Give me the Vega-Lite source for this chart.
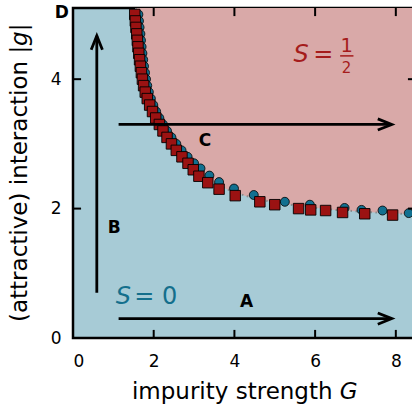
{
  "$schema": "https://vega.github.io/schema/vega-lite/v6.json",
  "autosize": {"type": "none"},
  "padding": {"left": 73, "top": 8, "right": 0, "bottom": 70},
  "width": 343,
  "height": 330,
  "config": {
    "font": "DejaVu Sans",
    "view": {"fill": "#a7cbd6", "stroke": "black", "strokeWidth": 2.5},
    "axis": {
      "domain": false, "grid": false, "ticks": false, "zindex": 1,
      "labelFont": "DejaVu Sans", "labelFontSize": 17, "labelColor": "black", "title": null
    }
  },
  "datasets": {
    "boundary": [
      {"G": 1.56, "g": 5.1}, {"G": 1.575, "g": 5.0}, {"G": 1.605, "g": 4.8}, {"G": 1.64, "g": 4.6},
      {"G": 1.675, "g": 4.4}, {"G": 1.715, "g": 4.2}, {"G": 1.765, "g": 4.0}, {"G": 1.835, "g": 3.8},
      {"G": 1.945, "g": 3.6}, {"G": 2.095, "g": 3.4}, {"G": 2.28, "g": 3.2}, {"G": 2.5, "g": 3.0},
      {"G": 2.77, "g": 2.8}, {"G": 3.09, "g": 2.6}, {"G": 3.27, "g": 2.5}, {"G": 3.5, "g": 2.4},
      {"G": 3.81, "g": 2.3}, {"G": 4.26, "g": 2.2}, {"G": 4.94, "g": 2.1}, {"G": 5.6, "g": 2.04},
      {"G": 6.5, "g": 1.98}, {"G": 7.5, "g": 1.94}, {"G": 8.5, "g": 1.91}
    ],
    "circles": [
      {"G": 1.62, "g": 5.0}, {"G": 1.635, "g": 4.9}, {"G": 1.65, "g": 4.8}, {"G": 1.67, "g": 4.7},
      {"G": 1.685, "g": 4.6}, {"G": 1.70, "g": 4.5}, {"G": 1.72, "g": 4.4}, {"G": 1.74, "g": 4.3},
      {"G": 1.76, "g": 4.2}, {"G": 1.785, "g": 4.1}, {"G": 1.81, "g": 4.0}, {"G": 1.84, "g": 3.9},
      {"G": 1.88, "g": 3.8}, {"G": 1.93, "g": 3.7}, {"G": 1.99, "g": 3.6}, {"G": 2.06, "g": 3.5},
      {"G": 2.14, "g": 3.4}, {"G": 2.23, "g": 3.3}, {"G": 2.33, "g": 3.2}, {"G": 2.44, "g": 3.1},
      {"G": 2.56, "g": 3.0}, {"G": 2.69, "g": 2.9}, {"G": 2.84, "g": 2.8}, {"G": 3.0, "g": 2.7},
      {"G": 3.16, "g": 2.62}, {"G": 3.38, "g": 2.51}, {"G": 3.62, "g": 2.41}, {"G": 3.99, "g": 2.31},
      {"G": 4.48, "g": 2.21}, {"G": 5.25, "g": 2.105}, {"G": 5.87, "g": 2.06}, {"G": 6.73, "g": 2.01},
      {"G": 7.15, "g": 1.98}, {"G": 7.67, "g": 1.97}, {"G": 8.32, "g": 1.93}
    ],
    "squares": [
      {"G": 1.53, "g": 5.0}, {"G": 1.545, "g": 4.9}, {"G": 1.56, "g": 4.8}, {"G": 1.58, "g": 4.7},
      {"G": 1.595, "g": 4.6}, {"G": 1.61, "g": 4.5}, {"G": 1.63, "g": 4.4}, {"G": 1.65, "g": 4.3},
      {"G": 1.67, "g": 4.2}, {"G": 1.695, "g": 4.1}, {"G": 1.72, "g": 4.0}, {"G": 1.75, "g": 3.9},
      {"G": 1.79, "g": 3.8}, {"G": 1.84, "g": 3.7}, {"G": 1.9, "g": 3.6}, {"G": 1.97, "g": 3.5},
      {"G": 2.05, "g": 3.4}, {"G": 2.14, "g": 3.3}, {"G": 2.23, "g": 3.2}, {"G": 2.33, "g": 3.1},
      {"G": 2.44, "g": 3.0}, {"G": 2.56, "g": 2.9}, {"G": 2.7, "g": 2.8}, {"G": 2.85, "g": 2.7},
      {"G": 2.98, "g": 2.6}, {"G": 3.12, "g": 2.5}, {"G": 3.34, "g": 2.4}, {"G": 3.62, "g": 2.3},
      {"G": 4.02, "g": 2.2}, {"G": 4.63, "g": 2.105}, {"G": 5.0, "g": 2.06}, {"G": 5.59, "g": 2.0},
      {"G": 5.89, "g": 1.98}, {"G": 6.26, "g": 1.97}, {"G": 6.68, "g": 1.94}, {"G": 7.23, "g": 1.92},
      {"G": 7.92, "g": 1.9}
    ],
    "harrows": [
      {"name": "A", "x1": 1.13, "x2": 7.9, "y": 0.3},
      {"name": "C", "x1": 1.13, "x2": 7.9, "y": 3.3}
    ],
    "varrows": [
      {"name": "B", "x": 0.59, "y1": 0.7, "y2": 4.67}
    ],
    "xticks": [
      {"G": 2, "from": 0, "to": 0.125}, {"G": 4, "from": 0, "to": 0.125},
      {"G": 6, "from": 0, "to": 0.125}, {"G": 8, "from": 0, "to": 0.125},
      {"G": 2, "from": 5.1, "to": 4.975}, {"G": 4, "from": 5.1, "to": 4.975},
      {"G": 6, "from": 5.1, "to": 4.975}, {"G": 8, "from": 5.1, "to": 4.975}
    ],
    "yticks": [
      {"g": 2, "from": 0, "to": 0.2}, {"g": 4, "from": 0, "to": 0.2},
      {"g": 2, "from": 8.5, "to": 8.3}, {"g": 4, "from": 8.5, "to": 8.3}
    ]
  },
  "resolve": {"axis": {"x": "independent", "y": "independent"}},
  "layer": [
    {
      "data": {"name": "boundary"},
      "mark": {"type": "area", "color": "#d9a9a8", "clip": true},
      "encoding": {
        "x": {"field": "G", "type": "quantitative", "scale": {"domain": [0, 8.5], "nice": false, "zero": false},
              "axis": {"orient": "bottom", "values": [0, 2, 4, 6, 8], "labelPadding": 15}},
        "y": {"field": "g", "type": "quantitative", "scale": {"domain": [0, 5.1], "nice": false, "zero": false},
              "axis": {"orient": "left", "values": [0, 2, 4], "labelPadding": 12}},
        "y2": {"datum": 5.1}
      }
    },
    {
      "data": {"name": "boundary"},
      "mark": {"type": "line", "color": "#8a8a8a", "strokeWidth": 2, "strokeDash": [1.5, 3.5], "clip": true},
      "encoding": {
        "x": {"field": "G", "type": "quantitative", "axis": null},
        "y": {"field": "g", "type": "quantitative", "axis": null}
      }
    },
    {
      "data": {"name": "circles"},
      "mark": {"type": "point", "shape": "circle", "filled": true, "fill": "#127090", "stroke": "black", "strokeWidth": 0.8, "size": 80, "opacity": 1, "clip": true},
      "encoding": {
        "x": {"field": "G", "type": "quantitative", "axis": null},
        "y": {"field": "g", "type": "quantitative", "axis": null}
      }
    },
    {
      "data": {"name": "squares"},
      "mark": {"type": "point", "shape": "square", "filled": true, "fill": "#9b1212", "stroke": "black", "strokeWidth": 0.9, "size": 110, "opacity": 1, "clip": true},
      "encoding": {
        "x": {"field": "G", "type": "quantitative", "axis": null},
        "y": {"field": "g", "type": "quantitative", "axis": null}
      }
    },
    {
      "data": {"name": "xticks"},
      "mark": {"type": "rule", "color": "black", "strokeWidth": 2},
      "encoding": {
        "x": {"field": "G", "type": "quantitative", "axis": null},
        "y": {"field": "from", "type": "quantitative", "axis": null},
        "y2": {"field": "to"}
      }
    },
    {
      "data": {"name": "yticks"},
      "mark": {"type": "rule", "color": "black", "strokeWidth": 2},
      "encoding": {
        "y": {"field": "g", "type": "quantitative", "axis": null},
        "x": {"field": "from", "type": "quantitative", "axis": null},
        "x2": {"field": "to"}
      }
    },
    {
      "data": {"name": "harrows"},
      "mark": {"type": "rule", "color": "black", "strokeWidth": 2.8},
      "encoding": {
        "x": {"field": "x1", "type": "quantitative", "axis": null},
        "x2": {"field": "x2"},
        "y": {"field": "y", "type": "quantitative", "axis": null}
      }
    },
    {
      "data": {"name": "harrows"},
      "mark": {"type": "point", "shape": "M-2,-0.8L0,0L-2,0.8", "filled": false, "stroke": "black", "strokeWidth": 2.8, "size": 196, "opacity": 1},
      "encoding": {
        "x": {"field": "x2", "type": "quantitative", "axis": null},
        "y": {"field": "y", "type": "quantitative", "axis": null}
      }
    },
    {
      "data": {"name": "varrows"},
      "mark": {"type": "rule", "color": "black", "strokeWidth": 2.8},
      "encoding": {
        "x": {"field": "x", "type": "quantitative", "axis": null},
        "y": {"field": "y1", "type": "quantitative", "axis": null},
        "y2": {"field": "y2"}
      }
    },
    {
      "data": {"name": "varrows"},
      "mark": {"type": "point", "shape": "M-2,-0.8L0,0L-2,0.8", "angle": 270, "filled": false, "stroke": "black", "strokeWidth": 2.8, "size": 196, "opacity": 1},
      "encoding": {
        "x": {"field": "x", "type": "quantitative", "axis": null},
        "y": {"field": "y2", "type": "quantitative", "axis": null}
      }
    },
    {
      "data": {"values": [
        {"t": "A", "G": 4.3, "g": 0.55},
        {"t": "B", "G": 1.02, "g": 1.7},
        {"t": "C", "G": 3.27, "g": 3.05},
        {"t": "D", "G": -0.28, "g": 5.03}
      ]},
      "mark": {"type": "text", "font": "DejaVu Sans", "fontWeight": "bold", "fontSize": 17, "color": "black", "align": "center", "baseline": "middle"},
      "encoding": {
        "x": {"field": "G", "type": "quantitative", "axis": null},
        "y": {"field": "g", "type": "quantitative", "axis": null},
        "text": {"field": "t"}
      }
    },
    {
      "data": {"values": [{"t": "impurity strength", "G": 1.46, "g": -0.83}]},
      "mark": {"type": "text", "font": "DejaVu Sans", "fontSize": 23, "color": "black", "align": "left", "baseline": "middle"},
      "encoding": {
        "x": {"field": "G", "type": "quantitative", "axis": null},
        "y": {"field": "g", "type": "quantitative", "axis": null},
        "text": {"field": "t"}
      }
    },
    {
      "data": {"values": [{"t": "G", "G": 6.61, "g": -0.83}]},
      "mark": {"type": "text", "font": "DejaVu Sans", "fontStyle": "italic", "fontSize": 23, "color": "black", "align": "left", "baseline": "middle"},
      "encoding": {
        "x": {"field": "G", "type": "quantitative", "axis": null},
        "y": {"field": "g", "type": "quantitative", "axis": null},
        "text": {"field": "t"}
      }
    },
    {
      "data": {"values": [{"t": "(attractive) interaction |", "G": -1.31, "g": 0.247}, {"t": "|", "G": -1.31, "g": 4.74}]},
      "mark": {"type": "text", "font": "DejaVu Sans", "fontSize": 23, "color": "black", "align": "left", "baseline": "middle", "angle": 270},
      "encoding": {
        "x": {"field": "G", "type": "quantitative", "axis": null},
        "y": {"field": "g", "type": "quantitative", "axis": null},
        "text": {"field": "t"}
      }
    },
    {
      "data": {"values": [{"t": "g", "G": -1.31, "g": 4.513}]},
      "mark": {"type": "text", "font": "DejaVu Sans", "fontStyle": "italic", "fontSize": 23, "color": "black", "align": "left", "baseline": "middle", "angle": 270},
      "encoding": {
        "x": {"field": "G", "type": "quantitative", "axis": null},
        "y": {"field": "g", "type": "quantitative", "axis": null},
        "text": {"field": "t"}
      }
    },
    {
      "data": {"values": [{"t": "S", "G": 1.25, "g": 0.63}, {"t": "S", "G": 5.65, "g": 4.38}]},
      "mark": {"type": "text", "font": "DejaVu Sans", "fontStyle": "italic", "fontSize": 24, "align": "center", "baseline": "middle"},
      "encoding": {
        "x": {"field": "G", "type": "quantitative", "axis": null},
        "y": {"field": "g", "type": "quantitative", "axis": null},
        "text": {"field": "t"},
        "color": {"field": "G", "type": "quantitative", "scale": {"type": "threshold", "domain": [3], "range": ["#146f8c", "#a51c1c"]}, "legend": null}
      }
    },
    {
      "data": {"values": [{"t": "= 0", "G": 2.05, "g": 0.63}]},
      "mark": {"type": "text", "font": "DejaVu Sans", "fontSize": 24, "align": "center", "baseline": "middle", "color": "#146f8c"},
      "encoding": {
        "x": {"field": "G", "type": "quantitative", "axis": null},
        "y": {"field": "g", "type": "quantitative", "axis": null},
        "text": {"field": "t"}
      }
    },
    {
      "data": {"values": [{"t": "=", "G": 6.2, "g": 4.38}, {"t": "1", "G": 6.78, "g": 4.52}, {"t": "2", "G": 6.78, "g": 4.18}]},
      "mark": {"type": "text", "font": "DejaVu Sans", "align": "center", "baseline": "middle", "color": "#a51c1c"},
      "encoding": {
        "x": {"field": "G", "type": "quantitative", "axis": null},
        "y": {"field": "g", "type": "quantitative", "axis": null},
        "text": {"field": "t"},
        "size": {"field": "t", "type": "nominal", "scale": {"domain": ["=", "1", "2"], "range": [24, 15, 15]}, "legend": null}
      }
    },
    {
      "data": {"values": [{"x1": 6.62, "x2": 6.95, "g": 4.36}]},
      "mark": {"type": "rule", "color": "#a51c1c", "strokeWidth": 1.5},
      "encoding": {
        "x": {"field": "x1", "type": "quantitative", "axis": null},
        "x2": {"field": "x2"},
        "y": {"field": "g", "type": "quantitative", "axis": null}
      }
    }
  ]
}
